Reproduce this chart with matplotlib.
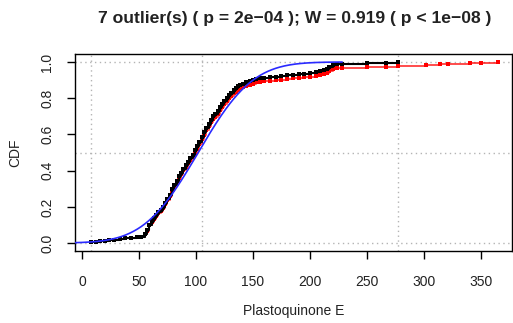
import numpy as np
import matplotlib
matplotlib.use("Agg")
import matplotlib.pyplot as plt
from math import erf, sqrt

plt.rcParams['font.family'] = ['Liberation Sans', 'DejaVu Sans']

# Inlier data as a frequency table (value, count), read from the black ECDF
values = [8, 12, 16, 20, 24, 28, 33, 38, 43, 48, 52,
          55, 57, 59, 61, 63, 65, 67, 69, 71, 73, 75, 77, 79, 81, 83, 85, 87, 89,
          91, 93, 95, 97, 99, 101, 103, 105, 107, 109, 111, 113, 115, 117, 119,
          121, 123, 125, 127, 129, 131, 133, 135, 137, 139, 141, 144, 147, 150,
          153, 156, 160, 165, 170, 175, 180, 185, 190, 195, 200, 205, 209, 212,
          215, 217, 220, 224, 228, 250, 267, 277]
counts = [1, 1, 1, 1, 1, 1, 1, 1, 1, 1, 1,
          4, 7, 9, 6, 6, 5, 5, 4, 5, 6, 7, 7, 10, 8, 7, 8, 6, 7,
          6, 6, 6, 6, 7, 7, 8, 8, 8, 8, 7, 7, 6, 4, 5,
          6, 6, 5, 5, 5, 4, 5, 3, 3, 3, 2, 2, 2, 2,
          2, 1, 1, 1, 1, 1, 1, 1, 1, 1, 1, 2, 1, 2,
          2, 3, 4, 1, 1, 1, 1, 1]
# Outliers (included in the red ECDF only)
outliers = [302, 302, 314, 321, 340, 350, 365]

# Normal fit (blue)
fit_mean = 102.0
fit_sd = 37.5
fit_range = [-24, 228]

# Reference lines
vlines = [8, 105, 277]
hlines = [0.0, 0.5, 1.0]

title = "7 outlier(s) ( p = 2e\u221204 ); W = 0.919 ( p < 1e\u221208 )"
xlabel = "Plastoquinone E"
ylabel = "CDF"
xticks = [0, 50, 100, 150, 200, 250, 300, 350]
yticks = [0.0, 0.2, 0.4, 0.6, 0.8, 1.0]

fig = plt.figure(figsize=(5.13, 3.23), dpi=100)
ax = fig.add_axes([75/513, 1-251/323, (512-75)/513, (251-54)/323])

for xv in vlines:
    ax.axvline(xv, color='#b4b4b4', lw=1.0, ls=(0, (1, 2.5)), zorder=1)
for yv in hlines:
    ax.axhline(yv, color='#b4b4b4', lw=1.0, ls=(0, (1, 2.5)), zorder=1)

vals = np.array(values, dtype=float)
cnts = np.array(counts, dtype=float)
F_black = np.cumsum(cnts) / cnts.sum()

# combined (red)
u_out, c_out = np.unique(np.array(outliers, dtype=float), return_counts=True)
all_vals = np.concatenate([vals, u_out])
all_cnts = np.concatenate([cnts, c_out.astype(float)])
order = np.argsort(all_vals, kind='stable')
all_vals = all_vals[order]
all_cnts = all_cnts[order]
F_red = np.cumsum(all_cnts) / all_cnts.sum()

ax.step(all_vals, F_red, where='post', color=(1, 0, 0, 0.7), lw=1.4, zorder=2)
ax.plot(all_vals, F_red, 's', color='red', ms=2.8, mew=0, zorder=2)

ax.step(vals, F_black, where='post', color='black', lw=1.5, zorder=3)
ax.plot(vals, F_black, 's', color='black', ms=3.2, mew=0, zorder=3)

xs = np.linspace(fit_range[0], fit_range[1], 300)
ys = np.array([0.5 * (1 + erf((x - fit_mean) / (fit_sd * sqrt(2)))) for x in xs])
ax.plot(xs, ys, color='#2a2aff', lw=1.2, zorder=4)

ax.set_xlim(-6.14, 377.2)
ax.set_ylim(-0.044, 1.044)
ax.set_xticks(xticks)
ax.set_yticks(yticks)
ax.set_yticklabels([f"{v:.1f}" for v in yticks], rotation=90, va='center')
ax.tick_params(axis='x', direction='out', length=6, width=1, labelsize=10,
               colors='black', labelcolor='#222222', pad=11)
ax.tick_params(axis='y', direction='out', length=6, width=1, labelsize=10,
               colors='black', labelcolor='#222222', pad=9)
for s in ax.spines.values():
    s.set_linewidth(1.0)
    s.set_color('black')

ax.set_xlabel(xlabel, fontsize=10, labelpad=11, color='#222222')
ax.set_ylabel(ylabel, fontsize=10, labelpad=13, color='#222222')
fig.text(295/513, 1-19/323, title, ha='center', va='center',
         fontsize=12.6, fontweight='bold', color='#222222')

fig.savefig("out.png", dpi=100)
